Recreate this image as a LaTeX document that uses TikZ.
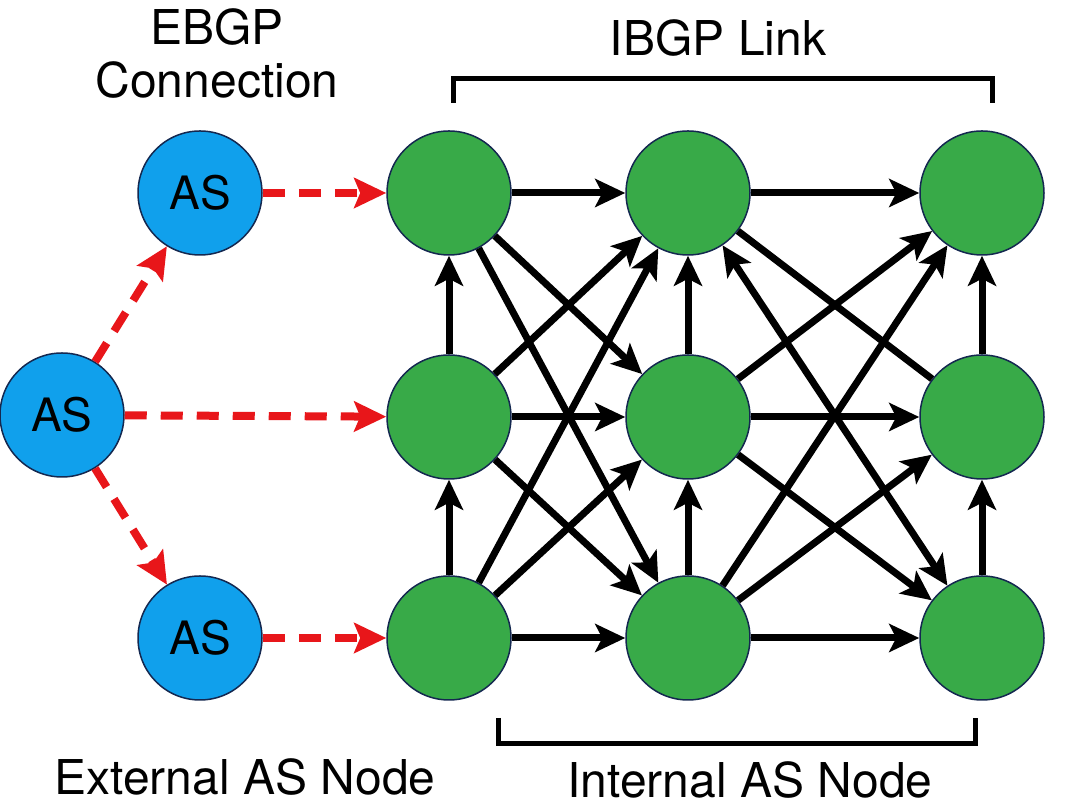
\documentclass[tikz,border=0pt]{standalone}
\usepackage{fontspec}
\setmainfont{TeX Gyre Heros}
\usetikzlibrary{arrows.meta}
\definecolor{asblue}{RGB}{16,160,236}
\definecolor{asgreen}{RGB}{56,170,72}
\definecolor{rimline}{RGB}{20,40,80}
\definecolor{ebgpred}{RGB}{232,22,26}
\begin{document}
\begin{tikzpicture}[x=1pt,y=1pt,
  extnode/.style={circle, fill=asblue, draw=rimline, line width=1.5pt, minimum size=124pt, inner sep=0pt, font=\fontsize{46}{50}\selectfont},
  intnode/.style={circle, fill=asgreen, draw=rimline, line width=1.5pt, minimum size=124pt, inner sep=0pt},
  ibgp/.style={line width=7pt, -{Stealth[length=30pt,width=28pt,inset=7pt]}},
  ibgpboth/.style={line width=7pt, {Stealth[length=30pt,width=28pt,inset=7pt]}-{Stealth[length=30pt,width=28pt,inset=7pt]}},
  ibgpplain/.style={line width=7pt},
  ebgp/.style={line width=8pt, draw=ebgpred, dash pattern=on 22pt off 14pt, -{Stealth[length=32pt,width=30pt,inset=6pt,fill=ebgpred,sep=0pt]}},
  textlabel/.style={font=\fontsize{48}{56}\selectfont, inner sep=0pt},
  bracketline/.style={line width=5pt}]
\useasboundingbox[fill=white] (0,0) rectangle (1080,810);
% internal nodes
\node[intnode] (T1) at (449,617) {};
\node[intnode] (M1) at (449,393) {};
\node[intnode] (B1) at (449,172) {};
\node[intnode] (T2) at (688,617) {};
\node[intnode] (M2) at (688,393) {};
\node[intnode] (B2) at (688,172) {};
\node[intnode] (T3) at (982,617) {};
\node[intnode] (M3) at (982,393) {};
\node[intnode] (B3) at (982,172) {};
% external nodes
\node[extnode] (E1) at (200,617) {AS};
\node[extnode] (E2) at (62,395) {AS};
\node[extnode] (E3) at (200,172) {AS};
% EBGP dashed arrows
\draw[ebgp] (E1) -- (T1);
\draw[ebgp] (E2) -- (M1);
\draw[ebgp] (E3) -- (B1);
\draw[ebgp] (E2) -- (E1);
\draw[ebgp] (E2) -- (E3);
% horizontal
\draw[ibgp] (T1) -- (T2);
\draw[ibgp] (M1) -- (M2);
\draw[ibgp] (B1) -- (B2);
\draw[ibgp] (T2) -- (T3);
\draw[ibgp] (M2) -- (M3);
\draw[ibgp] (B2) -- (B3);
% vertical
\draw[ibgp] (B1) -- (M1);
\draw[ibgp] (M1) -- (T1);
\draw[ibgp] (B2) -- (M2);
\draw[ibgp] (M2) -- (T2);
\draw[ibgp] (B3) -- (M3);
\draw[ibgp] (M3) -- (T3);
% diagonals col 1 -> col 2
\draw[ibgp] (T1) -- (M2);
\draw[ibgp] (T1) -- (B2);
\draw[ibgp] (M1) -- (T2);
\draw[ibgp] (M1) -- (B2);
\draw[ibgp] (B1) -- (T2);
\draw[ibgp] (B1) -- (M2);
% diagonals col 2 -> col 3
\draw[ibgpplain] (T2) -- (M3);
\draw[ibgpboth] (T2) -- (B3);
\draw[ibgp] (M2) -- (T3);
\draw[ibgp] (M2) -- (B3);
\draw[ibgp] (B2) -- (T3);
\draw[ibgp] (B2) -- (M3);
% brackets
\coordinate (ta) at (453,707);
\coordinate (tb) at (453,731);
\coordinate (tc) at (992,731);
\coordinate (td) at (992,707);
\draw[bracketline] (ta) -- (tb) -- (tc) -- (td);
\coordinate (ba) at (498,92);
\coordinate (bb) at (498,66);
\coordinate (bc) at (975,66);
\coordinate (bd) at (975,92);
\draw[bracketline] (ba) -- (bb) -- (bc) -- (bd);
% labels
\node[textlabel] (l1) at (217,783) {EBGP};
\node[textlabel] (l2) at (217,730) {Connection};
\node[textlabel] (l3) at (718,772) {IBGP Link};
\node[textlabel] (l4) at (245,33) {External AS Node};
\node[textlabel] (l5) at (750,30) {Internal AS Node};
\end{tikzpicture}
\end{document}
